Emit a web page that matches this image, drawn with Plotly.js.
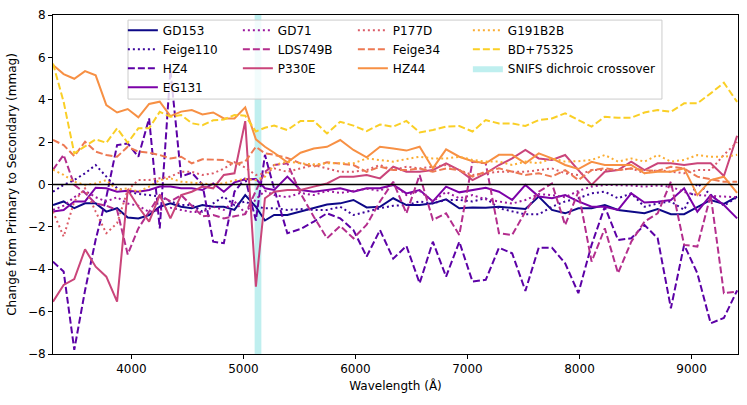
<!DOCTYPE html>
<html>
<head>
<meta charset="utf-8">
<script src="https://cdn.plot.ly/plotly-3.0.1.min.js"></script>
<style>
  html, body { margin: 0; padding: 0; background: #fff; }
  #chart { width: 747px; height: 405px; }
</style>
</head>
<body>
<div id="chart"></div>
<script>
// Wavelength bins (Angstrom): blue channel, one bin in the crossover, red channel
const wavelength = [
    3300, 3395, 3490, 3586, 3681, 3776, 3872, 3967, 4062, 4158,
    4253, 4348, 4444, 4539, 4634, 4730, 4825, 4920, 5016, 5111,
    5192,
    5274, 5392, 5510, 5628, 5746, 5864, 5982, 6100, 6219, 6337,
    6455, 6573, 6691, 6809, 6927, 7045, 7163, 7281, 7399, 7517,
    7636, 7754, 7872, 7990, 8108, 8226, 8344, 8462, 8580, 8698,
    8816, 8934, 9052, 9171, 9289, 9407
];

// Change from primary to secondary (mmag) per star
const gd153 = [
    -0.97, -0.8, -1.12, -0.89, -0.89, -1.28, -1.12, -1.56, -1.6, -1.44,
    -1.05, -0.89, -1.05, -1.12, -0.97, -1.05, -1.05, -1.2, -0.5, -1.05,
    -1.7,
    -1.44, -1.44, -1.28, -1.12, -0.94, -0.89, -0.73, -1.08, -1.05, -0.65,
    -0.97, -0.97, -0.89, -0.7, -1.12, -1.08, -1.1, -1.05, -1.12, -1.16,
    -0.57, -1.2, -1.36, -1.12, -1.12, -0.97, -1.2, -1.28, -1.36, -1.16,
    -1.4, -1.4, -1.05, -0.73, -0.92, -0.57
];
const feige110 = [
    -0.34, -0.02, 0.21, 0.53, 0.92, 0.37, -0.18, -0.34, -0.45, -0.5,
    -0.57, -0.8, -0.97, -0.97, -1.28, -0.89, -0.57, -0.97, -0.8, -1.05,
    -1.12,
    -1.12, -1.2, -1.16, -1.2, -1.2, -1.05, -1.44, -1.28, -1.12, -1.0,
    -0.97, -0.8, -0.89, -0.73, -0.73, -0.8, -0.65, -1.12, -1.28, -1.41,
    -1.41, -1.05, -0.8, -0.65, -0.42, -0.34, -0.65, -0.42, -1.05, -0.89,
    -0.8, -1.2, 0.05, -0.5, -1.0, -0.6
];
const hz4 = [
    -3.64, -4.11, -7.8, -5.0, -2.6, -0.6, 1.86, 1.94, 1.31, 3.12,
    -2.07, 5.4, 0.37, 0.56, 0.0, -2.7, -2.77, -0.34, 0.3, -1.7,
    1.4,
    -0.2, -2.3, -2.1, -1.75, -1.36, -1.6, -2.15, -3.4, -2.15, -3.5,
    -2.9, -4.66, -2.7, -4.35, -2.7, -4.58, -4.5, -2.98, -3.25, -5.02,
    -2.98, -2.98, -3.72, -5.13, -2.85, -1.05, -2.62, -2.54, -1.91, -2.54,
    -5.84, -2.85, -4.19, -6.55, -6.3, -5.0
];
const eg131 = [
    -1.28, -1.2, -0.8, -0.8, -0.15, -0.18, -0.34, -0.3, -0.34, -0.26,
    -0.1, -0.1, -0.18, -0.18, -0.26, 0.05, -0.34, 0.1, 0.25, 0.26,
    -0.18,
    -0.26, 0.37, -0.26, -0.34, -0.26, -0.18, -0.34, -0.18, -0.18, -0.02,
    -0.42, -0.26, -0.8, -0.1, -0.37, -0.26, -0.15, -0.34, -0.73, -0.02,
    -0.57, -0.65, -0.5, -0.8, -1.05, -1.05, -1.2, -0.42, -0.85, -0.81,
    -0.73, -0.18, -1.28, -0.5, -0.97, -1.6
];
const gd71 = [
    -1.2, -1.0, -0.6, -0.3, -0.6, -0.8, -0.6, -0.9, -1.0, -1.3,
    -1.2, -1.1, -1.2, -1.3, -1.3, -1.05, -1.2, -0.8, -1.35, -0.7,
    -0.3,
    -0.5, -0.6, -0.4, -0.5, -0.3, -0.4, -0.3, -0.2, -0.3, 0.05,
    -0.5, -0.3, -0.8, -0.35, -0.65, -0.5, -0.7, -0.8, -0.9, -0.73,
    -0.45, -0.5, -0.6, -0.3, -0.1, -0.02, -0.02, -0.05, -0.1, -0.05,
    -0.1, -0.35, -0.5, -0.55, -0.57, -0.6
];
const lds749b = [
    0.7, 1.4, -0.02, -0.4, -0.9, -1.0, -1.2, -3.3, -2.07, -1.28,
    -0.5, -0.8, -0.5, -1.0, -1.5, -1.44, -1.6, -1.5, -1.4, -0.3,
    0.6,
    0.92, 1.0, -0.42, -1.52, -2.54, -1.96, -2.54, -1.9, -0.8, 0.13,
    -1.36, 0.45, -1.67, -1.36, -2.38, 1.08, 1.0, -2.3, -2.38, -1.28,
    -0.34, 0.05, -1.91, -0.34, -3.64, -2.07, -4.19, -2.7, -1.75, -1.36,
    0.13, -2.85, -2.93, -0.5, -5.13, -5.05
];
const p330e = [
    -5.53, -4.74, -4.46, -3.06, -3.88, -4.35, -5.53, -0.26, -1.05, -1.75,
    -0.5, -1.6, -0.5, -0.34, -0.1, -0.18, 0.45, 0.53, 2.99, -4.82,
    -0.65,
    -0.34, -0.26, -0.26, -0.1, 0.05, 0.37, 0.37, 0.45, 0.29, 0.84,
    0.6, 0.6, 0.68, 1.0, 0.68, 0.21, 0.53, 0.92, 1.23, 1.63,
    1.23, 1.16, 1.39, 0.68, -0.02, 0.6, 0.68, 1.08, 0.68, 1.0,
    1.0, 0.92, 1.0, 1.0, 0.4, 2.3
];
const p177d = [
    -1.28, -2.46, -0.8, -0.18, -1.28, -2.3, -1.83, -0.26, 0.21, 0.21,
    0.29, 0.37, 0.6, 0.6, 0.45, 0.53, 0.75, 1.05, 0.8, 0.45,
    0.53,
    0.76, 0.6, 0.76, 0.92, 0.76, 0.6, 0.6, 0.68, 0.92, 0.68,
    0.84, 0.76, 0.84, 0.92, 0.68, 0.45, 0.53, 0.6, 0.6, 0.6,
    0.68, 0.76, 0.53, 0.45, 0.68, 0.68, 0.68, 0.76, 0.53, 0.68,
    0.6, 0.53, 0.68, 0.68, 1.4, 2.0
];
const feige34 = [
    2.1, 1.86, 1.34, 2.02, 1.55, 1.39, 1.31, 1.78, 1.55, 1.5,
    1.39, 1.23, 1.31, 1.0, 1.19, 1.16, 1.16, 0.95, 1.08, 1.78,
    1.47,
    1.4, 1.25, 1.0, 0.84, 1.05, 1.0, 0.92, 0.6, 0.84, 0.68,
    0.68, 0.76, 0.6, 0.76, 0.68, 0.37, 0.6, 0.76, 0.6, 0.45,
    0.53, 0.37, 0.68, 0.21, 0.68, 0.76, 0.68, 0.76, 0.68, 0.64,
    0.84, 0.76, 0.37, 0.26, 0.13, 0.13
];
const hz44 = [
    5.64, 5.21, 4.99, 5.35, 5.15, 3.75, 3.4, 3.56, 3.17, 3.8,
    3.91, 3.23, 3.44, 3.51, 3.31, 3.4, 3.12, 3.12, 3.64, 2.13,
    1.78,
    1.5, 1.05, 1.5, 1.7, 1.78, 2.1, 1.63, 1.28, 1.78, 1.7,
    1.6, 1.78, 0.76, 1.66, 1.31, 1.1, 1.0, 1.4, 1.4, 1.0,
    1.47, 1.23, 0.92, 0.73, 1.07, 0.92, 0.92, 0.92, 0.53, 0.6,
    0.6, 0.76, -0.5, 0.21, 0.37, -0.4
];
const g191b2b = [
    0.7, 0.45, 0.13, -0.02, 0.05, 0.21, -0.26, -0.18, -0.34, -0.1,
    0.21, 0.29, 0.13, 0.1, 0.05, 0.0, 0.05, 0.2, 0.26, 0.21,
    0.37,
    0.92, 1.08, 1.0, 0.95, 1.0, 1.0, 1.0, 1.23, 1.16, 1.08,
    1.2, 1.31, 1.23, 1.23, 1.31, 1.16, 1.08, 1.08, 0.92, 1.08,
    1.0, 1.23, 1.08, 1.1, 1.16, 1.39, 1.08, 1.23, 1.08, 1.39,
    1.08, 1.16, 1.39, 1.31, 1.31, 1.4
];
const bd75325 = [
    5.71, 3.9, 1.47, 1.8, 2.13, 1.97, 2.65, 1.97, 2.65, 2.65,
    3.43, 3.2, 3.28, 2.89, 2.8, 3.03, 3.07, 3.28, 3.25, 2.5,
    2.68,
    2.78, 2.57, 3.0, 3.0, 2.41, 2.96, 2.78, 2.52, 2.83, 2.73,
    3.0, 2.46, 2.57, 2.73, 2.76, 2.5, 3.04, 2.88, 2.88, 2.76,
    3.04, 3.12, 3.36, 3.04, 2.73, 3.2, 3.15, 3.15, 3.4, 3.51,
    3.43, 3.83, 3.83, 4.3, 4.8, 3.9
];

// SNIFS dichroic crossover band (Angstrom)
const crossover = [5100, 5160];
const yRange = [-8, 8];

// name, values, colour (plasma), dash, legend column
const stars = [
    ['GD153', gd153, '#0d0887', 'solid', 'c1'],
    ['Feige110', feige110, '#3a049a', 'dot', 'c1'],
    ['HZ4', hz4, '#5c01a6', 'dash', 'c1'],
    ['EG131', eg131, '#7c02a8', 'solid', 'c1'],
    ['GD71', gd71, '#9b179e', 'dot', 'c2'],
    ['LDS749B', lds749b, '#b42e8d', 'dash', 'c2'],
    ['P330E', p330e, '#ca457a', 'solid', 'c2'],
    ['P177D', p177d, '#db5c68', 'dot', 'c3'],
    ['Feige34', feige34, '#ed7953', 'dash', 'c3'],
    ['HZ44', hz44, '#f79044', 'solid', 'c3'],
    ['G191B2B', g191b2b, '#fbad33', 'dot', 'c4'],
    ['BD+75325', bd75325, '#facf26', 'dash', 'c4'],
];

const dashStyle = { solid: 'solid', dot: '2px,3px', dash: '7px,3px' };

const band = {
    x: [crossover[0], crossover[1], crossover[1], crossover[0], crossover[0]],
    y: [yRange[0], yRange[0], yRange[1], yRange[1], yRange[0]],
    name: 'SNIFS dichroic crossover',
    type: 'scatter',
    mode: 'lines',
    fill: 'toself',
    fillcolor: 'rgba(0, 191, 191, 0.25)',
    line: { width: 0 },
    legendgroup: 'c4',
    legendrank: 13,
    hoverinfo: 'skip',
};

// empty legend column so the long last label is not clipped
const spacer = {
    x: [null],
    y: [null],
    name: '',
    type: 'scatter',
    mode: 'lines',
    line: { color: 'rgba(0,0,0,0)', width: 0 },
    legendgroup: 'c5',
    legendrank: 14,
    hoverinfo: 'skip',
};

const data = [band].concat(stars.map(function (s, i) {
    return {
        x: wavelength,
        y: s[1],
        name: s[0],
        type: 'scatter',
        mode: 'lines',
        line: { color: s[2], width: 2, dash: dashStyle[s[3]] },
        legendgroup: s[4],
        legendrank: i + 1,
    };
})).concat([spacer]);

const font = { family: 'DejaVu Sans, sans-serif', size: 12, color: '#000' };

const layout = {
    width: 747,
    height: 405,
    margin: { l: 53, r: 9, t: 15, b: 51 },
    paper_bgcolor: '#fff',
    plot_bgcolor: '#fff',
    font: font,
    showlegend: true,
    legend: {
        orientation: 'h',
        x: 0.102,
        xanchor: 'left',
        y: 0.998,
        yanchor: 'top',
        entrywidth: 70,
        tracegroupgap: 0,
        bgcolor: 'rgba(0,0,0,0)',
        borderwidth: 0,
        font: font,
        itemwidth: 30,
    },
    xaxis: {
        range: [3300, 9415],
        tickvals: [4000, 5000, 6000, 7000, 8000, 9000],
        ticks: 'outside',
        ticklen: 4,
        tickwidth: 1,
        tickcolor: '#000',
        showline: true,
        linecolor: '#000',
        linewidth: 1,
        mirror: true,
        showgrid: false,
        zeroline: false,
        title: { text: 'Wavelength (Å)', font: font, standoff: 6 },
    },
    yaxis: {
        range: yRange,
        tickvals: [-8, -6, -4, -2, 0, 2, 4, 6, 8],
        ticks: 'outside',
        ticklen: 4,
        tickwidth: 1,
        tickcolor: '#000',
        showline: true,
        linecolor: '#000',
        linewidth: 1,
        mirror: true,
        showgrid: false,
        zeroline: false,
        title: { text: 'Change from Primary to Secondary (mmag)', font: font, standoff: 8 },
    },
    shapes: [
        {   // reference line at zero
            type: 'line', xref: 'paper', x0: 0, x1: 1, yref: 'y', y0: 0, y1: 0,
            line: { color: '#000', width: 1.5 }, layer: 'above',
        },
        {   // legend frame
            type: 'rect', xref: 'paper', yref: 'paper',
            x0: 0.1095, x1: 0.889, y0: 0.752, y1: 0.985,
            fillcolor: 'rgba(255,255,255,0.8)',
            line: { color: '#cccccc', width: 1 }, layer: 'above',
        },
    ],
};

Plotly.newPlot('chart', data, layout, { displayModeBar: false, staticPlot: true });
</script>
</body>
</html>
